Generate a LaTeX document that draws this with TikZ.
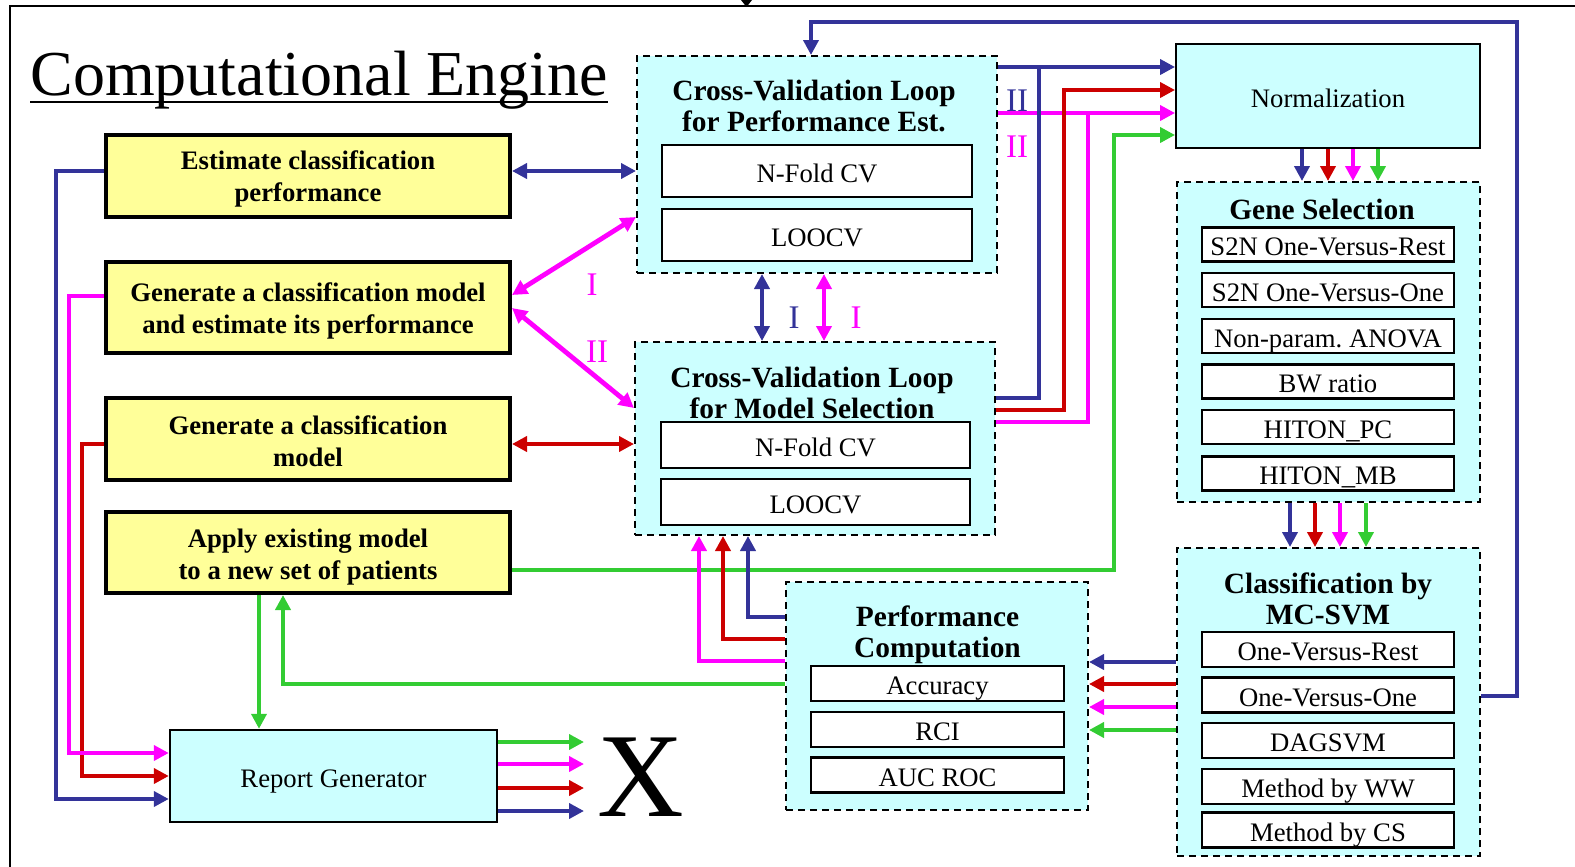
\documentclass[tikz,border=0pt]{standalone}
\usepackage{fontspec}
\setmainfont{Liberation Serif}
\usetikzlibrary{arrows.meta,calc}
\definecolor{cblue}{HTML}{333399}
\definecolor{cred}{HTML}{CC0000}
\definecolor{cmag}{HTML}{FF00FF}
\definecolor{cgreen}{HTML}{33CC33}
\definecolor{yfill}{HTML}{FFFF99}
\definecolor{cfill}{HTML}{CCFFFF}
% taller first line, so that two-line box texts sit a little lower
\newcommand\toppad[1]{\rule{0pt}{#1}}
\begin{document}
\begin{tikzpicture}[x=0.5pt,y=-0.5pt,
  task/.style={draw=black, line width=2pt, fill=yfill, inner sep=0, align=center,
    font=\fontsize{13.35}{16}\selectfont\bfseries},
  loopbox/.style={draw=black, line width=1pt, dash pattern=on 3.5pt off 2.5pt, fill=cfill, inner sep=0},
  unit/.style={draw=black, line width=1.2pt, fill=cfill, inner sep=0,
    text height=12.5pt, text depth=1.5pt,
    font=\fontsize{13.35}{15}\selectfont},
  item/.style={draw=black, line width=1.4pt, fill=white, inner sep=0,
    text height=12.5pt, text depth=1.5pt,
    font=\fontsize{13.35}{15}\selectfont},
  head/.style={inner sep=0, align=center, font=\fontsize{14.7}{15.5}\selectfont\bfseries},
  tag/.style={inner sep=0, font=\fontsize{16.5}{18}\selectfont},
  flow/.style={line width=2.4pt},
  tip/.style={-{Triangle[length=7.5pt,width=7.5pt]}},
  tips/.style={{Triangle[length=7.5pt,width=7.5pt]}-{Triangle[length=7.5pt,width=7.5pt]}},
]
\useasboundingbox (0,0) rectangle (1575,867);

% outer frame and the incoming marker
\draw[line width=1pt] (10,867) -- (10,6) -- (1575,6);
\fill (741,0) -- (752,0) -- (746.5,7) -- cycle;

% title
\node[anchor=base west, inner sep=0, font=\fontsize{32}{36}\selectfont] (title) at (30,95) {Computational Engine};
\draw[line width=1.4pt] ($(title.base west)+(0,7)$) -- ($(title.base east)+(0,7)$);

% task boxes
\node[task, minimum width=202pt, minimum height=41pt] (est) at (308,176)
  {\toppad{12.8pt}Estimate classification\\performance};
\node[task, minimum width=202pt, minimum height=45.5pt] (gen2) at (308,307.5)
  {\toppad{12.6pt}Generate a classification model\\and estimate its performance};
\node[task, minimum width=202pt, minimum height=41pt] (gen3) at (308,439)
  {\toppad{12pt}Generate a classification\\model};
\node[task, minimum width=202pt, minimum height=40.5pt] (apply) at (308,552.5)
  {\toppad{14pt}Apply existing model\\to a new set of patients};

% cross-validation loop for performance estimation
\node[loopbox, minimum width=180pt, minimum height=108.5pt] (cvA) at (817,164.5) {};
\node[head] (headA) at (814,106) {Cross-Validation Loop\\for Performance Est.};
\node[item, minimum width=155pt, minimum height=26pt] (nfA) at (817,171) {N-Fold CV};
\node[item, minimum width=155pt, minimum height=26pt] (looA) at (817,235) {LOOCV};

% cross-validation loop for model selection
\node[loopbox, minimum width=180pt, minimum height=96.5pt] (cvB) at (815,438.5) {};
\node[head] (headB) at (812,393) {Cross-Validation Loop\\for Model Selection};
\node[item, minimum width=154.5pt, minimum height=23pt] (nfB) at (815.5,445) {N-Fold CV};
\node[item, minimum width=154.5pt, minimum height=23pt] (looB) at (815.5,502) {LOOCV};

% normalization
\node[unit, minimum width=151.75pt, minimum height=52pt] (norm) at (1328,96) {Normalization};

% gene selection
\node[loopbox, minimum width=151.5pt, minimum height=160pt] (gene) at (1328.5,342) {};
\node[head] (headG) at (1322,209) {Gene Selection};
\foreach \n/\y/\t in {g1/244.5/S2N One-Versus-Rest, g2/290/S2N One-Versus-One,
    g3/336/Non-param.\ ANOVA, g4/381.5/BW ratio, g5/427/HITON\_PC, g6/473.5/HITON\_MB}
  \node[item, minimum width=126pt, minimum height=17pt] (\n) at (1328,\y) {\t};

% classification
\node[loopbox, minimum width=151.5pt, minimum height=154pt] (class) at (1328.5,702) {};
\node[head] (headC) at (1328,598.5) {Classification by\\MC-SVM};
\foreach \n/\y/\t in {c1/649.5/One-Versus-Rest, c2/695/One-Versus-One,
    c3/740.5/DAGSVM, c4/786.5/Method by WW, c5/830/Method by CS}
  \node[item, minimum width=126pt, minimum height=17.5pt] (\n) at (1328,\y) {\t};

% performance computation
\node[loopbox, minimum width=151pt, minimum height=114pt] (perf) at (937,696) {};
\node[head] (headP) at (937.5,634.5) {Performance\\Computation};
\foreach \n/\y/\t in {p1/683.5/Accuracy, p2/729.5/RCI, p3/775/AUC ROC}
  \node[item, minimum width=126.5pt, minimum height=17.5pt] (\n) at (937.5,\y) {\t};

% report generator and its output
\node[unit, minimum width=163.5pt, minimum height=46pt] (report) at (333.5,776) {Report Generator};
\node[inner sep=0, font=\fontsize{60}{62}\selectfont] (xout) at (641,777.5) {X};

% links between the tasks and the loops
\draw[flow,cblue,tips] (est.east |- 0,171) -- (cvA.west |- 0,171);
\draw[flow,cmag,tips] (gen2.east |- 0,295) -- (cvA.west |- 0,217);
\draw[flow,cmag,tips] (gen2.east |- 0,308) -- (cvB.west |- 0,408);
\draw[flow,cred,tips] (gen3.east |- 0,444) -- (cvB.west |- 0,444);
\draw[flow,cblue,tips] (cvA.south -| 762,0) -- (cvB.north -| 762,0);
\draw[flow,cmag,tips] (cvA.south -| 824,0) -- (cvB.north -| 824,0);

% path labels
\node[tag,cmag] (lI1) at (592,285) {I};
\node[tag,cmag] (lII1) at (597,352) {II};
\node[tag,cblue] (lI2) at (794,318) {I};
\node[tag,cmag] (lI3) at (856,318) {I};
\node[tag,cblue] (lII2) at (1017,101) {II};
\node[tag,cmag] (lII3) at (1017,147) {II};

% loops into normalization
\draw[flow,cmag,tip] (cvA.east |- 0,113) -- (norm.west |- 0,113);
\draw[flow,cmag] (cvB.east |- 0,422) -| (1088,113);
\draw[flow,cblue,tip] (cvA.east |- 0,67) -- (norm.west |- 0,67);
\draw[flow,cblue] (cvB.east |- 0,398) -| (1039,67);
\draw[flow,cred,tip] (cvB.east |- 0,410) -| (1064,90) -- (norm.west |- 0,90);
\draw[flow,cgreen,tip] (apply.east |- 0,570) -| (1114,135) -- (norm.west |- 0,135);

% pipeline down the right column
\foreach \x/\c in {1302/cblue,1328/cred,1353/cmag,1378/cgreen}
  \draw[flow,\c,tip] (norm.south -| \x,0) -- (gene.north -| \x,0);
\foreach \x/\c in {1290/cblue,1315/cred,1340/cmag,1366/cgreen}
  \draw[flow,\c,tip] (gene.south -| \x,0) -- (class.north -| \x,0);
\foreach \y/\c in {662/cblue,684/cred,707/cmag,730/cgreen}
  \draw[flow,\c,tip] (class.west |- 0,\y) -- (perf.east |- 0,\y);
\draw[flow,cblue,tip] (class.east |- 0,696) -| (1517,22) -| (cvA.north -| 811,0);

% performance back to the loops and tasks
\draw[flow,cblue,tip] (perf.west |- 0,617) -| (cvB.south -| 748,0);
\draw[flow,cred,tip] (perf.west |- 0,639) -| (cvB.south -| 723,0);
\draw[flow,cmag,tip] (perf.west |- 0,661) -| (cvB.south -| 699,0);
\draw[flow,cgreen,tip] (perf.west |- 0,684) -| (apply.south -| 283,0);
\draw[flow,cgreen,tip] (apply.south -| 259,0) -- (report.north -| 259,0);

% tasks into the report generator
\draw[flow,cblue,tip] (est.west |- 0,171) -| (56,799) -- (report.west |- 0,799);
\draw[flow,cred,tip] (gen3.west |- 0,444) -| (82,776) -- (report.west |- 0,776);
\draw[flow,cmag,tip] (gen2.west |- 0,296) -| (69,753) -- (report.west |- 0,753);

% report outputs
\coordinate (oG) at (584,742);
\coordinate (oM) at (584,764);
\coordinate (oR) at (584,788);
\coordinate (oB) at (584,811);
\draw[flow,cgreen,tip] (report.east |- oG) -- (oG);
\draw[flow,cmag,tip] (report.east |- oM) -- (oM);
\draw[flow,cred,tip] (report.east |- oR) -- (oR);
\draw[flow,cblue,tip] (report.east |- oB) -- (oB);
\end{tikzpicture}
\end{document}
